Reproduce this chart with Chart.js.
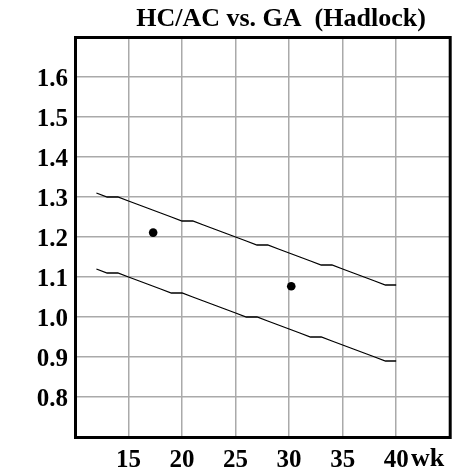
<!DOCTYPE html>
<html>
<head>
<meta charset="utf-8">
<script src="https://cdn.jsdelivr.net/npm/chart.js@4.4.0/dist/chart.umd.min.js"></script>
<style>
  html, body { margin: 0; padding: 0; background: #fff; }
  #wrap { width: 454px; height: 474px; }
</style>
</head>
<body>
<div id="wrap"><canvas id="hcac-chart" width="454" height="474"></canvas></div>
<script>
const chartTitle = "HC/AC vs. GA  (Hadlock)";
const weeks = [12, 13, 14, 15, 16, 17, 18, 19, 20, 21, 22, 23, 24, 25, 26, 27, 28, 29, 30, 31, 32, 33, 34, 35, 36, 37, 38, 39, 40];
const upperLimit = [1.31, 1.30, 1.30, 1.29, 1.28, 1.27, 1.26, 1.25, 1.24, 1.24, 1.23, 1.22, 1.21, 1.20, 1.19, 1.18, 1.18, 1.17, 1.16, 1.15, 1.14, 1.13, 1.13, 1.12, 1.11, 1.10, 1.09, 1.08, 1.08];
const lowerLimit = [1.12, 1.11, 1.11, 1.10, 1.09, 1.08, 1.07, 1.06, 1.06, 1.05, 1.04, 1.03, 1.02, 1.01, 1.00, 1.00, 0.99, 0.98, 0.97, 0.96, 0.95, 0.95, 0.94, 0.93, 0.92, 0.91, 0.90, 0.89, 0.89];
const patientWeeks = [17.3, 30.2];
const patientRatio = [1.211, 1.077];
const xTickLabels = [15, 20, 25, 30, 35, 40];
const yTickLabels = [0.8, 0.9, 1.0, 1.1, 1.2, 1.3, 1.4, 1.5, 1.6];

const serif = "'Liberation Serif', 'Times New Roman', serif";

// title and the "wk" unit are drawn by hand, like the original report
const extraText = {
  id: 'extraText',
  afterDraw(chart) {
    const ctx = chart.ctx;
    ctx.save();
    ctx.fillStyle = '#000';
    ctx.textBaseline = 'alphabetic';
    ctx.font = 'bold 26px ' + serif;
    ctx.textAlign = 'center';
    ctx.fillText(chartTitle, 281, 26);
    ctx.font = 'bold 26px ' + serif;
    ctx.textAlign = 'left';
    ctx.fillText('wk', 411, 466);
    ctx.restore();
  }
};

const frameBox = {
  id: 'frameBox',
  afterDatasetsDraw(chart) {
    const a = chart.chartArea;
    const ctx = chart.ctx;
    ctx.save();
    ctx.strokeStyle = '#000';
    ctx.lineWidth = 3;
    ctx.strokeRect(a.left + 0.5, a.top + 0.5, a.right - a.left, a.bottom - a.top);
    ctx.restore();
  }
};

const near = (v, list) => list.some(t => Math.abs(t - v) < 1e-6);

new Chart(document.getElementById('hcac-chart'), {
  type: 'scatter',
  data: {
    datasets: [
      {
        type: 'line',
        data: weeks.map((w, i) => ({ x: w, y: upperLimit[i] })),
        borderColor: '#000',
        borderWidth: 1.3,
        pointRadius: 0,
        fill: false
      },
      {
        type: 'line',
        data: weeks.map((w, i) => ({ x: w, y: lowerLimit[i] })),
        borderColor: '#000',
        borderWidth: 1.3,
        pointRadius: 0,
        fill: false
      },
      {
        type: 'scatter',
        data: patientWeeks.map((w, i) => ({ x: w, y: patientRatio[i] })),
        backgroundColor: '#000',
        borderColor: '#000',
        pointRadius: 4.3,
        borderWidth: 0
      }
    ]
  },
  options: {
    responsive: false,
    animation: false,
    devicePixelRatio: 1,
    layout: { padding: { top: 37, right: 4, left: 0, bottom: 0 } },
    plugins: {
      legend: { display: false },
      tooltip: { enabled: false },
      title: { display: false }
    },
    scales: {
      x: {
        type: 'linear',
        min: 10,
        max: 45,
        afterFit: s => { s.height = 37; },
        // invisible tick marks push the labels down without widening the right padding
        grid: { color: '#aaaaaa', lineWidth: 1.5, drawTicks: true, tickLength: 9, tickColor: 'rgba(0,0,0,0)' },
        border: { display: false },
        ticks: {
          stepSize: 5,
          padding: 0,
          color: '#000',
          maxRotation: 0,
          autoSkip: false,
          font: { family: serif, size: 25, weight: 'bold' },
          callback: v => near(v, xTickLabels) ? String(v) : ''
        }
      },
      y: {
        type: 'linear',
        min: 0.7,
        max: 1.7,
        afterFit: s => { s.width = 75; },
        grid: { color: '#aaaaaa', lineWidth: 1.5, drawTicks: false },
        border: { display: false },
        ticks: {
          stepSize: 0.1,
          padding: 7,
          labelOffset: 3,
          color: '#000',
          autoSkip: false,
          font: { family: serif, size: 25, weight: 'bold' },
          callback: v => near(v, yTickLabels) ? v.toFixed(1) : ''
        }
      }
    }
  },
  plugins: [extraText, frameBox]
});
</script>
</body>
</html>
